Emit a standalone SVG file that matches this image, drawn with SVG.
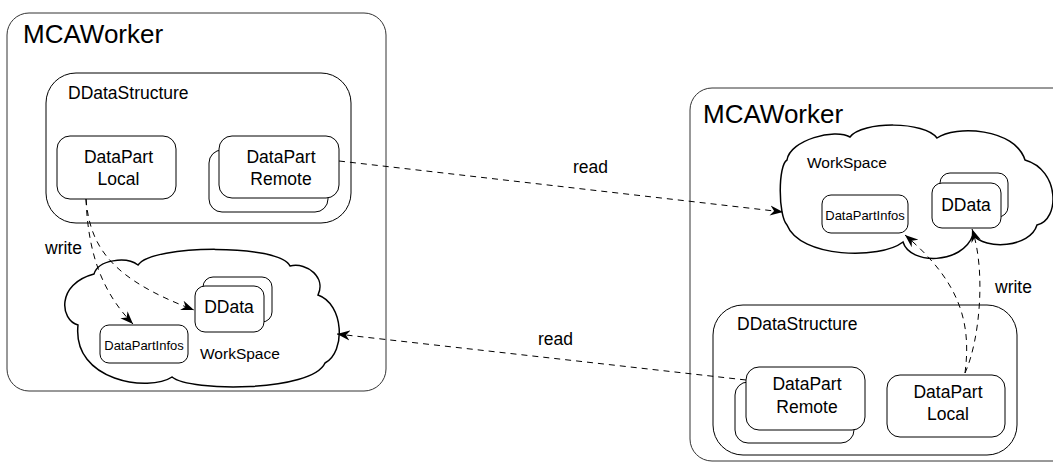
<svg xmlns="http://www.w3.org/2000/svg" width="1053" height="462" viewBox="0 0 1053 462">
<defs>
<style>
text{font-family:"Liberation Sans",Arial,sans-serif;fill:#000}
.outer{fill:#fff;stroke:#333;stroke-width:1}
.box{fill:#fff;stroke:#000;stroke-width:1}
.cloud{fill:#fff;stroke:#000;stroke-width:1.5}
.big{font-size:26px}
.lbl{font-size:17.5px}
.mid{font-size:17.5px;text-anchor:middle}
.small{font-size:13px;text-anchor:middle}
.ws{font-size:15.5px}
.conn{fill:none;stroke:#000;stroke-width:1;stroke-dasharray:6 5;marker-end:url(#arr)}
</style>
<marker id="arr" viewBox="0 0 14 11" refX="13" refY="5.5" markerWidth="14" markerHeight="11" markerUnits="userSpaceOnUse" orient="auto">
<path d="M0,0.5 L13,5.5 L0,10.5 L4,5.5 Z" fill="#000"/>
</marker>
</defs>

<g id="worker-left">
<rect class="outer" x="7" y="13" width="379" height="378" rx="22"/>
<text class="big" x="23" y="43">MCAWorker</text>
</g>
<g id="worker-right">
<rect class="outer" x="690" y="88" width="400" height="373" rx="22"/>
<text class="big" x="703" y="123">MCAWorker</text>
</g>

<g id="dds-left">
<rect class="box" x="46" y="73" width="305" height="150" rx="30"/>
<text class="lbl" x="68" y="99">DDataStructure</text>
</g>
<g id="local-left">
<rect class="box" x="57" y="136" width="119" height="63" rx="13"/>
<text class="mid" x="118.5" y="163">DataPart</text>
<text class="mid" x="118.5" y="185">Local</text>
</g>
<g id="remote-left">
<rect class="box" x="209" y="150" width="119" height="62" rx="13"/>
<rect class="box" x="219" y="136" width="120" height="62" rx="13"/>
<text class="mid" x="281" y="163">DataPart</text>
<text class="mid" x="281" y="185">Remote</text>
</g>

<g id="ws-left">
<path class="cloud" d="M78,325 C60,320 56,284 94,274 C98,260 126,256 138,265 C152,244 280,244 290,266 C308,262 326,278 318,295 C344,304 346,352 325,363 C312,392 190,392 172,377 C150,392 72,382 78,325 Z"/>
<text class="ws" x="200" y="359">WorkSpace</text>
</g>
<g id="ddata-left">
<rect class="box" x="203" y="277" width="69" height="45" rx="10"/>
<rect class="box" x="195" y="286" width="69" height="46" rx="10"/>
<text class="mid" x="229" y="313">DData</text>
</g>
<g id="infos-left">
<rect class="box" x="100" y="325" width="88" height="38" rx="9"/>
<text class="small" x="144" y="350">DataPartInfos</text>
</g>

<g id="ws-right">
<path class="cloud" d="M787,225 C778,215 778,165 787,160 C790,140 835,128 850,137 C862,121 925,121 937,138 C955,125 1015,128 1025,160 C1060,170 1060,220 1037,225 C1030,248 985,250 973,235 C962,265 910,265 903,242 C880,260 800,258 787,225 Z"/>
<text class="ws" x="807" y="168">WorkSpace</text>
</g>
<g id="infos-right">
<rect class="box" x="822" y="195" width="86" height="38" rx="9"/>
<text class="small" x="865" y="220">DataPartInfos</text>
</g>
<g id="ddata-right">
<rect class="box" x="940" y="173" width="68" height="44" rx="10"/>
<rect class="box" x="932" y="183" width="69" height="45" rx="10"/>
<text class="mid" x="966" y="211">DData</text>
</g>

<g id="dds-right">
<rect class="box" x="713" y="305" width="304" height="150" rx="30"/>
<text class="lbl" x="737" y="330">DDataStructure</text>
</g>
<g id="remote-right">
<rect class="box" x="735" y="382" width="119" height="61" rx="13"/>
<rect class="box" x="746" y="367" width="119" height="63" rx="13"/>
<text class="mid" x="807" y="390">DataPart</text>
<text class="mid" x="807" y="413">Remote</text>
</g>
<g id="local-right">
<rect class="box" x="887" y="375" width="118" height="62" rx="13"/>
<text class="mid" x="948" y="398">DataPart</text>
<text class="mid" x="948" y="420">Local</text>
</g>

<g id="connectors">
<path class="conn" d="M339,161 L783,212"/>
<path class="conn" d="M746,380 L337,334"/>
<path class="conn" d="M86,199 C88,250 100,290 133,324"/>
<path class="conn" d="M86,199 C90,250 115,280 194,310"/>
<path class="conn" d="M965,373 C972,320 958,280 905,235"/>
<path class="conn" d="M965,373 C980,340 986,270 972,229"/>
<text class="lbl" x="573" y="173">read</text>
<text class="lbl" x="538" y="345">read</text>
<text class="lbl" x="45" y="254">write</text>
<text class="lbl" x="995" y="293">write</text>
</g>
</svg>
